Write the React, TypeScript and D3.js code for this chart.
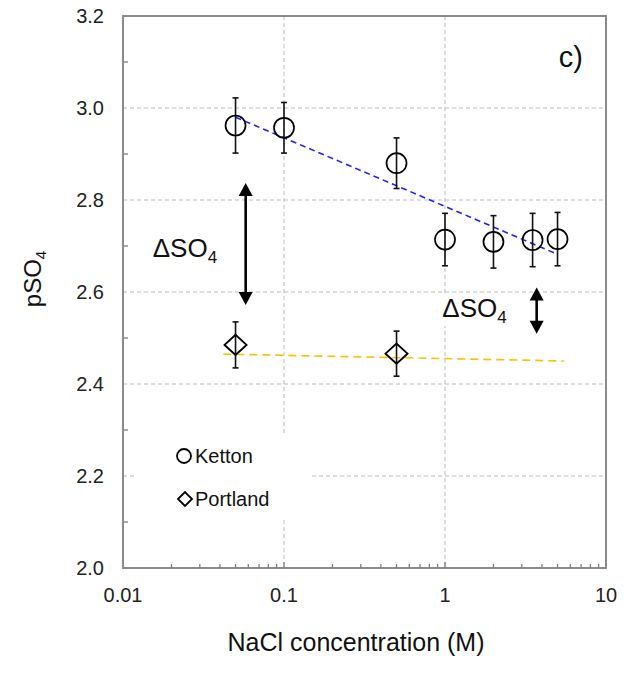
import * as d3 from "d3";

// NaCl concentration (M) and pSO4
const kettonConc = [0.05, 0.1, 0.5, 1, 2, 3.5, 5];
const kettonPSO4 = [2.962, 2.957, 2.88, 2.714, 2.709, 2.713, 2.715];
const kettonErr = [0.06, 0.055, 0.055, 0.057, 0.057, 0.058, 0.058];

const portlandConc = [0.05, 0.5];
const portlandPSO4 = [2.485, 2.466];
const portlandErr = [0.05, 0.049];

// dashed trend lines (end points)
const kettonFitConc = [0.05, 5];
const kettonFitPSO4 = [2.98, 2.682];
const portlandFitConc = [0.042, 5.5];
const portlandFitPSO4 = [2.465, 2.45];

// double arrows + their labels
const arrowConc = [0.0578, 3.71];
const arrowTop = [2.837, 2.61];
const arrowBottom = [2.572, 2.509];
const deltaLabelConc = [0.0153, 0.962];
const deltaLabelPSO4 = [2.676, 2.546];

const xTicks = [0.01, 0.1, 1, 10];
const xTickLabels = ["0.01", "0.1", "1", "10"];
const yTicks = [2.0, 2.2, 2.4, 2.6, 2.8, 3.0, 3.2];
const yMinor = [2.1, 2.3, 2.5, 2.7, 2.9, 3.1];

const W = 629;
const H = 675;
const left = 123;
const right = 606;
const top = 16;
const bottom = 568;
const font = "'Liberation Sans', Arial, sans-serif";

export default function App() {
  const x = d3.scaleLog().domain([0.01, 10]).range([left, right]);
  const y = d3.scaleLinear().domain([2.0, 3.2]).range([bottom, top]);

  const xMinor: number[] = [];
  [0.01, 0.1, 1].forEach((d) => {
    for (let k = 2; k <= 9; k++) xMinor.push(d * k);
  });

  const line = d3
    .line<[number, number]>()
    .x((d) => x(d[0]))
    .y((d) => y(d[1]));

  const kettonFit = line(kettonFitConc.map((c, i) => [c, kettonFitPSO4[i]]));
  const portlandFit = line(portlandFitConc.map((c, i) => [c, portlandFitPSO4[i]]));

  const grid = "#bdbdbd";
  const axisCol = "#7f7f7f";

  return (
    <svg
      width={W}
      height={H}
      style={{ position: "absolute", left: 0, top: 0, background: "#fff" }}
      fontFamily={font}
    >
      <rect x={0} y={0} width={W} height={H} fill="#fff" />

      {/* gridlines */}
      {yTicks.slice(1, -1).map((t) => (
        <line
          key={"gy" + t}
          x1={left}
          x2={right}
          y1={y(t)}
          y2={y(t)}
          stroke={grid}
          strokeWidth={1}
          strokeDasharray="4,3"
        />
      ))}
      {xTicks.slice(1, -1).map((t) => (
        <line
          key={"gx" + t}
          x1={x(t)}
          x2={x(t)}
          y1={top}
          y2={bottom}
          stroke={grid}
          strokeWidth={1}
          strokeDasharray="4,3"
        />
      ))}

      {/* legend box hides the grid */}
      <rect x={135} y={435} width={177} height={83} fill="#fff" />
      <circle cx={184} cy={456} r={7} fill="none" stroke="#000" strokeWidth={1.8} />
      <text x={195} y={463} fontSize={20} fill="#111">Ketton</text>
      <path
        d={`M${185 - 7},499 L185,${499 - 7} L${185 + 7},499 L185,${499 + 7} Z`}
        fill="none"
        stroke="#000"
        strokeWidth={1.8}
      />
      <text x={195} y={506} fontSize={20} fill="#111">Portland</text>

      {/* frame and ticks */}
      <rect
        x={left}
        y={top}
        width={right - left}
        height={bottom - top}
        fill="none"
        stroke={axisCol}
        strokeWidth={1.8}
      />
      {yMinor.map((t) => (
        <line key={"my" + t} x1={left} x2={left + 5} y1={y(t)} y2={y(t)} stroke={axisCol} strokeWidth={1.3} />
      ))}
      {xMinor.map((t) => (
        <line key={"mx" + t} x1={x(t)} x2={x(t)} y1={bottom} y2={bottom - 4} stroke={axisCol} strokeWidth={1.3} />
      ))}
      {xTicks.slice(1, -1).map((t) => (
        <line key={"Mx" + t} x1={x(t)} x2={x(t)} y1={bottom} y2={bottom - 6} stroke={axisCol} strokeWidth={1.3} />
      ))}

      {/* tick labels */}
      {yTicks.map((t) => (
        <text key={"ly" + t} x={104} y={y(t) + 7} fontSize={20} textAnchor="end" fill="#222">
          {d3.format(".1f")(t)}
        </text>
      ))}
      {xTicks.map((t, i) => (
        <text key={"lx" + t} x={x(t)} y={602} fontSize={20} textAnchor="middle" fill="#222">
          {xTickLabels[i]}
        </text>
      ))}

      {/* axis titles */}
      <text x={356} y={651} fontSize={25} textAnchor="middle" fill="#111">
        NaCl concentration (M)
      </text>
      <text transform="translate(41,279) rotate(-90)" fontSize={24} textAnchor="middle" fill="#111">
        pSO
        <tspan fontSize={15} dy={5}>4</tspan>
      </text>
      <text x={583} y={67} fontSize={29} textAnchor="end" fill="#111">
        c)
      </text>

      {/* trend lines */}
      <path d={kettonFit ?? ""} fill="none" stroke="#1f1fff" strokeWidth={1.6} strokeDasharray="6,4" />
      <path d={portlandFit ?? ""} fill="none" stroke="#ffc000" strokeWidth={1.6} strokeDasharray="8,5" />

      {/* Ketton */}
      {kettonConc.map((c, i) => {
        const cx = x(c);
        const y1 = y(kettonPSO4[i] + kettonErr[i]);
        const y2 = y(kettonPSO4[i] - kettonErr[i]);
        return (
          <g key={"k" + i} stroke="#111">
            <line x1={cx} x2={cx} y1={y1} y2={y2} strokeWidth={1.6} />
            <line x1={cx - 3} x2={cx + 3} y1={y1} y2={y1} strokeWidth={1.6} />
            <line x1={cx - 3} x2={cx + 3} y1={y2} y2={y2} strokeWidth={1.6} />
            <circle cx={cx} cy={y(kettonPSO4[i])} r={10} fill="none" stroke="#000" strokeWidth={1.7} />
          </g>
        );
      })}

      {/* Portland */}
      {portlandConc.map((c, i) => {
        const cx = x(c);
        const cy = y(portlandPSO4[i]);
        const y1 = y(portlandPSO4[i] + portlandErr[i]);
        const y2 = y(portlandPSO4[i] - portlandErr[i]);
        return (
          <g key={"p" + i} stroke="#111">
            <line x1={cx} x2={cx} y1={y1} y2={y2} strokeWidth={1.6} />
            <line x1={cx - 3} x2={cx + 3} y1={y1} y2={y1} strokeWidth={1.6} />
            <line x1={cx - 3} x2={cx + 3} y1={y2} y2={y2} strokeWidth={1.6} />
            <path
              d={`M${cx - 11},${cy} L${cx},${cy - 10} L${cx + 11},${cy} L${cx},${cy + 10} Z`}
              fill="none"
              stroke="#000"
              strokeWidth={1.9}
            />
          </g>
        );
      })}

      {/* ΔSO4 arrows */}
      {arrowConc.map((c, i) => {
        const ax = x(c);
        const ya = y(arrowTop[i]);
        const yb = y(arrowBottom[i]);
        const hw = 7;
        const hl = 13;
        return (
          <g key={"a" + i}>
            <line x1={ax} x2={ax} y1={ya + hl - 1} y2={yb - hl + 1} stroke="#000" strokeWidth={2.6} />
            <path d={`M${ax},${ya} L${ax - hw},${ya + hl} L${ax + hw},${ya + hl} Z`} fill="#000" />
            <path d={`M${ax},${yb} L${ax - hw},${yb - hl} L${ax + hw},${yb - hl} Z`} fill="#000" />
          </g>
        );
      })}

      {deltaLabelConc.map((c, i) => {
        const lx = x(c);
        const ly = y(deltaLabelPSO4[i]);
        return (
          <g key={"dl" + i}>
            {i === 1 && <rect x={lx - 2} y={ly - 22} width={74} height={31} fill="#fff" />}
            <text x={lx} y={ly} fontSize={26} fill="#111">
              ΔSO
              <tspan fontSize={17} dy={6}>4</tspan>
            </text>
          </g>
        );
      })}
    </svg>
  );
}
